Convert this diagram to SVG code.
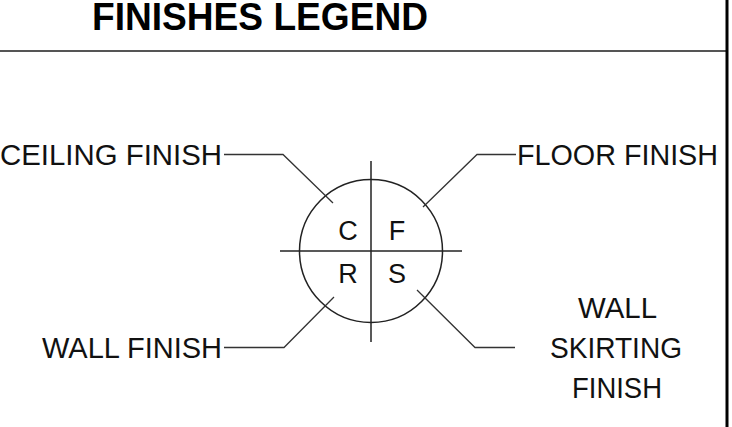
<svg xmlns="http://www.w3.org/2000/svg" width="732" height="427" viewBox="0 0 732 427">
<style>
.lbl{font-family:"Liberation Sans",Arial,sans-serif;font-size:29px;fill:#111}
.ltr{font-family:"Liberation Sans",Arial,sans-serif;font-size:27px;fill:#111;text-anchor:middle}
.ttl{font-family:"Liberation Sans",Arial,sans-serif;font-size:38px;font-weight:bold;fill:#000}
.ln{fill:none;stroke:#333;stroke-width:1.3}
</style>
<rect width="732" height="427" fill="#fff"/>
<g id="frame">
<line x1="0" y1="51" x2="727" y2="51" stroke="#555" stroke-width="2.2"/>
<line x1="727" y1="0" x2="727" y2="427" stroke="#000" stroke-width="3"/>
</g>
<g id="title">
<text class="ttl" x="92" y="30" textLength="336" lengthAdjust="spacingAndGlyphs">FINISHES LEGEND</text>
</g>
<g id="symbol">
<circle cx="371" cy="251" r="71.5" fill="none" stroke="#222" stroke-width="1.5"/>
<line x1="371" y1="161" x2="371" y2="342" stroke="#222" stroke-width="1.5"/>
<line x1="280" y1="251" x2="462" y2="251" stroke="#222" stroke-width="1.5"/>
<text class="ltr" x="348" y="240">C</text>
<text class="ltr" x="397" y="240">F</text>
<text class="ltr" x="348" y="283">R</text>
<text class="ltr" x="397" y="283">S</text>
</g>
<g id="ceiling">
<text class="lbl" x="0" y="165" textLength="222" lengthAdjust="spacingAndGlyphs">CEILING FINISH</text>
</g>
<g id="floor">
<text class="lbl" x="517" y="165" textLength="201" lengthAdjust="spacingAndGlyphs">FLOOR FINISH</text>
</g>
<g id="wall">
<text class="lbl" x="42" y="358" textLength="180" lengthAdjust="spacingAndGlyphs">WALL FINISH</text>
</g>
<g id="skirting">
<text class="lbl" x="578" y="318" textLength="79" lengthAdjust="spacingAndGlyphs">WALL</text>
<text class="lbl" x="550" y="358" textLength="132" lengthAdjust="spacingAndGlyphs">SKIRTING</text>
<text class="lbl" x="572" y="398" textLength="90" lengthAdjust="spacingAndGlyphs">FINISH</text>
</g>
<g id="connectors">
<polyline class="ln" points="224,154.5 283,154.5 333,203"/>
<polyline class="ln" points="516,154.5 477,154.5 423,207"/>
<polyline class="ln" points="224,347.5 284,347.5 334,297"/>
<polyline class="ln" points="515,347.5 475,347.5 417,290"/>
</g>
</svg>
